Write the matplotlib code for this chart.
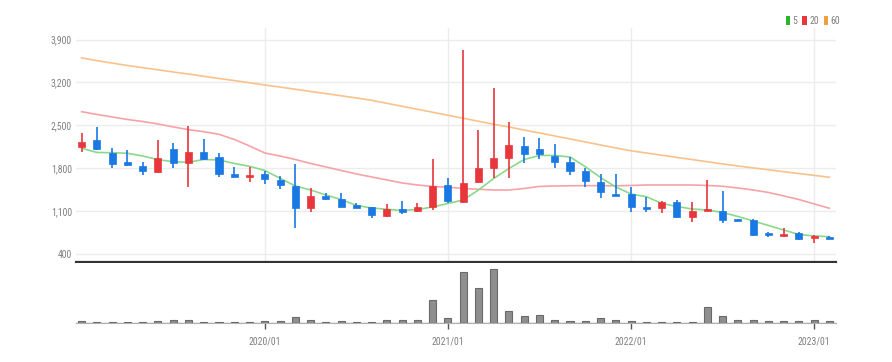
import matplotlib
matplotlib.use("Agg")
import matplotlib.pyplot as plt
from matplotlib.patches import Patch
from matplotlib import font_manager
import numpy as np
import pandas as pd

# ---------------- data ----------------
months = [str(p).replace("-", "/") for p in pd.period_range("2019-01", periods=50, freq="M")]

open_ = [2151, 2260, 2043, 1906, 1836, 1738, 2109, 1880, 2070, 1978, 1706, 1657, 1706, 1608, 1510,
         1146, 1351, 1298, 1195, 1162, 1020, 1129, 1102, 1162, 1526, 1244, 1580, 1808, 1962, 2167,
         2118, 1999, 1897, 1755, 1580, 1379, 1379, 1162, 1146, 1244, 999, 1102, 1107, 976, 955,
         738, 694, 738, 656, 682]
close = [2223, 2109, 1869, 1848, 1759, 1972, 1880, 2070, 1945, 1706, 1657, 1694, 1619, 1521, 1146,
         1347, 1302, 1172, 1156, 1036, 1134, 1090, 1162, 1515, 1270, 1554, 1808, 1962, 2179, 2027,
         2027, 1906, 1755, 1591, 1407, 1351, 1172, 1139, 1244, 999, 1107, 1139, 955, 943, 710,
         710, 726, 640, 694, 650]
high = [2370, 2478, 2125, 2097, 1897, 2260, 2216, 2489, 2272, 2053, 1825, 1825, 1759, 1673, 1864,
        1482, 1400, 1400, 1227, 1170, 1211, 1270, 1227, 1950, 1645, 3729, 2424, 3104, 2559, 2305,
        2288, 2195, 1978, 1808, 1701, 1701, 1498, 1335, 1270, 1281, 1254, 1608, 1428, 976, 971,
        764, 829, 754, 710, 690]
low = [2060, 2100, 1799, 1841, 1689, 1717, 1808, 1498, 1934, 1662, 1652, 1570, 1542, 1456, 819,
       1081, 1281, 1162, 1146, 983, 1009, 1048, 1081, 1118, 1227, 1227, 1554, 1635, 1645, 1890,
       1950, 1808, 1689, 1498, 1309, 1347, 1090, 1090, 1064, 983, 927, 1102, 911, 943, 694,
       673, 682, 628, 575, 645]

ma5 = [2125, 2057, 2053, 2043, 1999, 1939, 1906, 1897, 1942, 1934, 1877, 1831, 1763, 1635, 1510,
       1444, 1363, 1289, 1192, 1151, 1129, 1110, 1126, 1167, 1224, 1281, 1444, 1632, 1795, 1942,
       2008, 2008, 1983, 1825, 1648, 1493, 1379, 1335, 1227, 1175, 1134, 1118, 1077, 1012, 939,
       865, 792, 718, 694, 682]
ma20 = [2722, 2677, 2636, 2595, 2562, 2522, 2473, 2429, 2396, 2353, 2269, 2163, 2048, 1999, 1942,
        1877, 1820, 1763, 1706, 1657, 1608, 1559, 1526, 1502, 1489, 1469, 1456, 1444, 1444, 1469,
        1502, 1510, 1513, 1515, 1515, 1513, 1518, 1526, 1526, 1526, 1526, 1518, 1505, 1477, 1444,
        1404, 1347, 1289, 1216, 1146]
ma60 = [3600, 3555, 3515, 3476, 3440, 3406, 3370, 3336, 3300, 3264, 3230, 3194, 3158, 3124, 3088,
        3052, 3018, 2982, 2946, 2908, 2859, 2810, 2762, 2713, 2664, 2615, 2566, 2517, 2473, 2422,
        2375, 2326, 2277, 2228, 2179, 2130, 2084, 2048, 2012, 1976, 1941, 1905, 1869, 1836, 1805,
        1774, 1743, 1712, 1683, 1652]

volume = [70, 40, 40, 40, 40, 70, 80, 100, 40, 40, 40, 40, 50, 50, 190, 90, 40, 70, 40, 40, 80, 80,
          80, 690, 150, 1520, 1040, 1620, 350, 220, 240, 100, 70, 70, 140, 90, 50, 40, 40, 40, 40,
          470, 220, 90, 80, 50, 50, 50, 80, 50]

y_ticks = [400, 1100, 1800, 2500, 3200, 3900]
x_tick_labels = ["2020/01", "2021/01", "2022/01", "2023/01"]
legend_labels = ["5", "20", "60"]

# ---------------- style ----------------
avail = {f.name for f in font_manager.fontManager.ttflist}
fam = [f for f in ["Liberation Sans Narrow", "Roboto Condensed", "DejaVu Sans Condensed"] if f in avail]
fam = fam + ["DejaVu Sans"]
plt.rcParams["font.family"] = fam

UP = "#e8373c"
DOWN = "#1a78e4"
C5 = "#8ad98a"
C20 = "#f5a3a8"
C60 = "#f9c28c"
GRID = "#ececec"
TXT = "#808080"

W, H = 892, 362
fig = plt.figure(figsize=(W / 100, H / 100), dpi=100)
ax = fig.add_axes([76 / W, (H - 262) / H, 760 / W, 234 / H])
axv = fig.add_axes([76 / W, (H - 323) / H, 760 / W, 60 / H])

x = np.arange(len(months))
o = np.array(open_); c = np.array(close); hi = np.array(high); lo = np.array(low)
up = c >= o
cols = np.where(up, UP, DOWN)

# MA lines
ax.plot(x, ma60, color=C60, lw=1.2, zorder=2)
ax.plot(x, ma20, color=C20, lw=1.2, zorder=2)
ax.plot(x, ma5, color=C5, lw=1.2, zorder=2)

# candles
ax.vlines(x, lo, hi, colors=cols, lw=1.2, zorder=3)
body_bottom = np.minimum(o, c)
body_h = np.maximum(np.abs(c - o), 28)
ax.bar(x, body_h, bottom=body_bottom, width=0.46, color=cols, edgecolor=cols, lw=0.5, zorder=4)

ax.set_xlim(-0.37, 49.43)
ax.set_ylim(269, 4088)
ax.set_yticks(y_ticks)
ax.set_yticklabels([f"{v:,}" for v in y_ticks])
year_idx = [months.index(m) for m in x_tick_labels]
ax.set_xticks(year_idx)
ax.set_xticklabels([])
ax.grid(True, color=GRID, lw=1)
ax.set_axisbelow(True)
ax.tick_params(axis="y", length=0, pad=3, labelsize=7, labelcolor=TXT)
ax.tick_params(axis="x", length=0)
for s in ["top", "right", "left"]:
    ax.spines[s].set_visible(False)
ax.spines["bottom"].set_color("#333333")
ax.spines["bottom"].set_linewidth(1.6)

# volume
axv.bar(x, volume, width=0.46, color="#8f8f8f", edgecolor="#6a6a6a", lw=0.8, zorder=3)
axv.axhline(0, color="#a0a0a0", lw=1.0, zorder=2)
axv.set_xlim(ax.get_xlim())
axv.set_ylim(0, 1800)
axv.set_yticks([])
axv.set_xticks(year_idx)
axv.set_xticklabels(x_tick_labels)
axv.tick_params(axis="x", length=4, width=1, color="#555555", pad=6, labelsize=7, labelcolor=TXT)
for s in ["top", "right", "left"]:
    axv.spines[s].set_visible(False)
axv.spines["bottom"].set_color("#b0b0b0")

# legend
handles = [Patch(facecolor=col, edgecolor="none") for col in ["#2bb52b", "#e8373c", "#f0a040"]]
fig.legend(handles, legend_labels, loc="upper right", bbox_to_anchor=(840 / W, 1 - 16 / H),
           ncol=3, frameon=False, handlelength=0.45, handleheight=1.1, handletextpad=0.25,
           columnspacing=0.5, fontsize=7, labelcolor=TXT, borderaxespad=0, borderpad=0)

fig.savefig("out.png", dpi=100)
